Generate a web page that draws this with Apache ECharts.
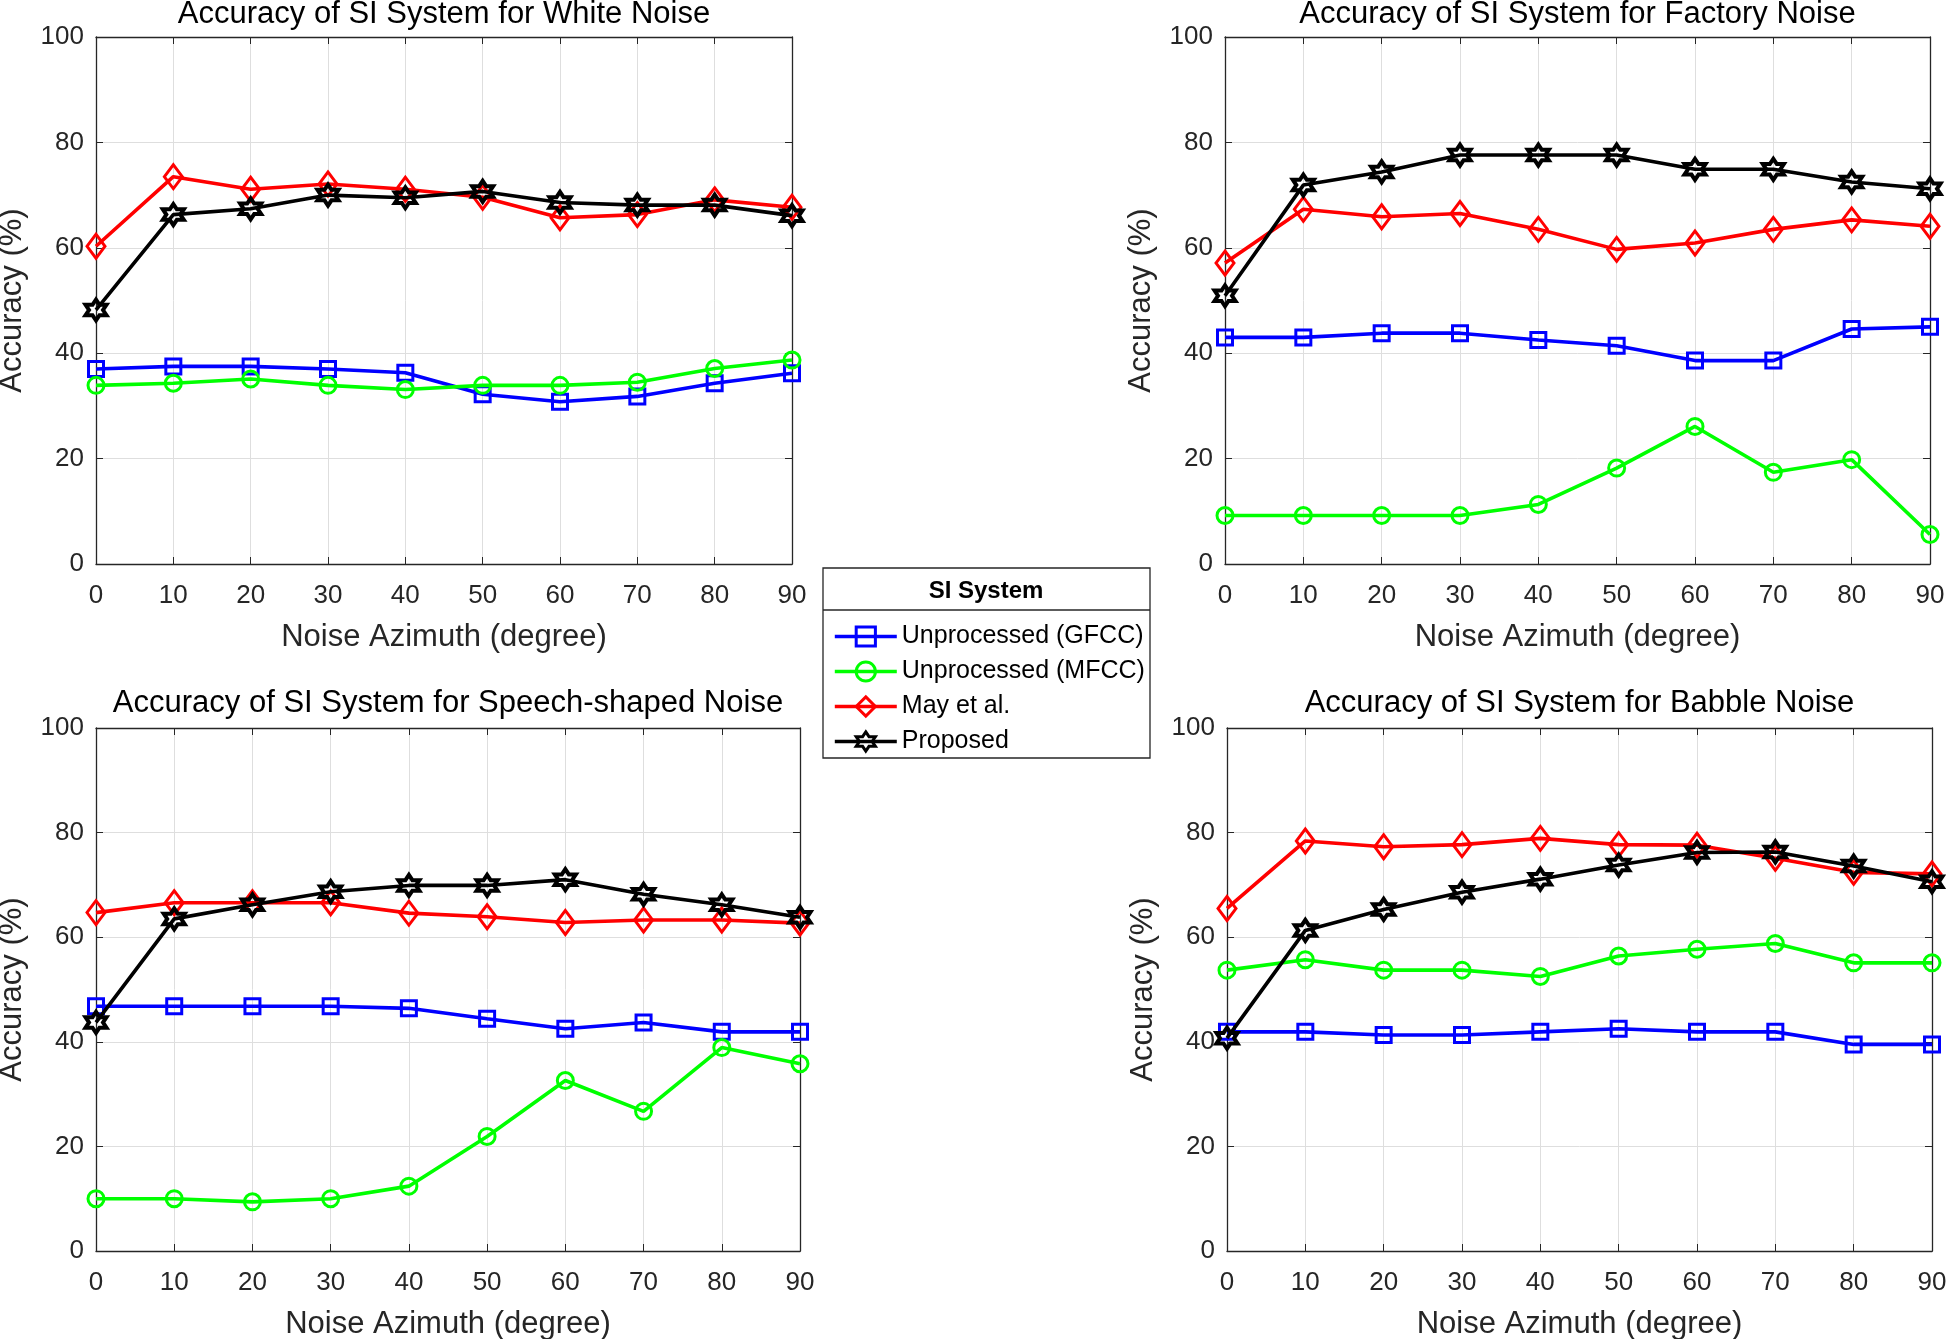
<!DOCTYPE html>
<html>
<head>
<meta charset="utf-8">
<script src="https://cdn.jsdelivr.net/npm/echarts@6/dist/echarts.min.js"></script>
<style>
html,body{margin:0;padding:0;background:#fff;}
#chart{width:1946px;height:1339px;}
</style>
</head>
<body>
<div id="chart"></div>
<script>
// ---------- data ----------
const azimuths = [0, 10, 20, 30, 40, 50, 60, 70, 80, 90];
const xTickValues = [0, 10, 20, 30, 40, 50, 60, 70, 80, 90];
const yTickValues = [0, 20, 40, 60, 80, 100];
const seriesNames = ['Unprocessed (GFCC)', 'Unprocessed (MFCC)', 'May et al.', 'Proposed'];
const panelTitles = [
  'Accuracy of SI System for White Noise',
  'Accuracy of SI System for Factory Noise',
  'Accuracy of SI System for Speech-shaped Noise',
  'Accuracy of SI System for Babble Noise'
];
const legendTitle = 'SI System';
const xAxisName = 'Noise Azimuth (degree)';
const yAxisName = 'Accuracy (%)';

// White noise
const whiteGFCC = [37.0, 37.5, 37.5, 37.0, 36.3, 32.2, 30.8, 31.8, 34.3, 36.2];
const whiteMFCC = [33.9, 34.3, 35.1, 33.9, 33.1, 33.9, 33.9, 34.5, 37.1, 38.7];
const whiteMay = [60.3, 73.5, 71.1, 72.1, 71.1, 69.6, 65.7, 66.3, 69.1, 67.7];
const whiteProposed = [48.2, 66.3, 67.4, 70.0, 69.5, 70.7, 68.6, 68.1, 68.1, 66.1];

// Factory noise
const factoryGFCC = [43.0, 43.0, 43.8, 43.8, 42.5, 41.4, 38.6, 38.6, 44.6, 45.0];
const factoryMFCC = [9.2, 9.2, 9.2, 9.2, 11.3, 18.2, 26.1, 17.4, 19.8, 5.6];
const factoryMay = [57.1, 67.3, 65.9, 66.5, 63.5, 59.7, 60.9, 63.5, 65.3, 64.1];
const factoryProposed = [50.9, 71.9, 74.4, 77.6, 77.6, 77.6, 74.9, 74.9, 72.5, 71.2];

// Speech-shaped noise
const speechGFCC = [46.8, 46.8, 46.8, 46.8, 46.4, 44.4, 42.5, 43.7, 41.9, 41.9];
const speechMFCC = [10.0, 10.0, 9.4, 10.0, 12.4, 21.9, 32.6, 26.7, 38.9, 35.8];
const speechMay = [64.7, 66.6, 66.6, 66.6, 64.6, 63.9, 62.8, 63.3, 63.3, 62.7];
const speechProposed = [43.7, 63.5, 66.2, 68.7, 69.9, 69.9, 71.0, 68.2, 66.2, 63.8];

// Babble noise
const babbleGFCC = [41.9, 41.9, 41.3, 41.3, 41.9, 42.5, 41.9, 41.9, 39.5, 39.5];
const babbleMFCC = [53.7, 55.7, 53.7, 53.7, 52.5, 56.4, 57.7, 58.8, 55.1, 55.1];
const babbleMay = [65.5, 78.4, 77.3, 77.7, 78.9, 77.7, 77.6, 75.1, 72.4, 72.1];
const babbleProposed = [40.7, 61.3, 65.3, 68.6, 71.1, 73.8, 76.2, 76.3, 73.6, 70.6];

const panelData = [
  [whiteGFCC, whiteMFCC, whiteMay, whiteProposed],
  [factoryGFCC, factoryMFCC, factoryMay, factoryProposed],
  [speechGFCC, speechMFCC, speechMay, speechProposed],
  [babbleGFCC, babbleMFCC, babbleMay, babbleProposed]
];

// ---------- styling / layout ----------
const FONT = '"Liberation Sans", Arial, Helvetica, sans-serif';
const AX = '#262626';
const GRIDC = '#dedede';
const colors = ['#0000ff', '#00ff00', '#ff0000', '#000000'];
const hexagram = 'path://M50,0 L64.43,25 L93.3,25 L78.87,50 L93.3,75 L64.43,75 L50,100 L35.57,75 L6.7,75 L21.13,50 L6.7,25 L35.57,25 Z';
const symbols = ['rect', 'circle', 'diamond', hexagram];
const symbolSizes = [15, 16, [18, 24], 21];
const symbolBorders = [3, 3, 3, 4];

const layout = [
  {left: 96, top: 37, width: 696, height: 527, titleY: 14},
  {left: 1225, top: 37, width: 705, height: 527, titleY: 14},
  {left: 96, top: 728, width: 704, height: 523, titleY: 703},
  {left: 1227, top: 728, width: 705, height: 523, titleY: 703}
];

const grids = [], xAxes = [], yAxes = [], series = [], titles = [];
layout.forEach((g, i) => {
  grids.push({left: g.left, top: g.top, width: g.width, height: g.height, show: false,
    containLabel: false, outerBoundsMode: 'none'});
  const tick = {show: true, inside: true, length: 7, lineStyle: {color: AX, width: 1}};
  const line = {show: true, onZero: false, lineStyle: {color: AX, width: 1.3}};
  xAxes.push({
    type: 'value', gridIndex: i, position: 'bottom', min: 0, max: 90, interval: 10,
    axisLine: line, axisTick: tick,
    axisLabel: {show: true, color: AX, fontSize: 26, fontFamily: FONT, margin: 19,
      showMinLabel: true, showMaxLabel: true},
    splitLine: {show: true, lineStyle: {color: GRIDC, width: 1}},
    name: xAxisName, nameLocation: 'middle', nameGap: 58,
    nameTextStyle: {color: AX, fontSize: 31, fontFamily: FONT}
  });
  xAxes.push({
    type: 'value', gridIndex: i, position: 'top', min: 0, max: 90, interval: 10,
    axisLine: line, axisTick: tick, axisLabel: {show: false}, splitLine: {show: false}
  });
  yAxes.push({
    type: 'value', gridIndex: i, position: 'left', min: 0, max: 100, interval: 20,
    axisLine: line, axisTick: tick,
    axisLabel: {show: true, color: AX, fontSize: 26, fontFamily: FONT, margin: 12},
    splitLine: {show: true, lineStyle: {color: GRIDC, width: 1}},
    name: yAxisName, nameLocation: 'middle', nameGap: 68, nameRotate: 90,
    nameTextStyle: {color: AX, fontSize: 31, fontFamily: FONT}
  });
  yAxes.push({
    type: 'value', gridIndex: i, position: 'right', min: 0, max: 100, interval: 20,
    axisLine: line, axisTick: tick, axisLabel: {show: false}, splitLine: {show: false}
  });
  titles.push({
    text: panelTitles[i], left: g.left + g.width / 2, top: g.titleY,
    textAlign: 'center', textVerticalAlign: 'middle', padding: 0,
    textStyle: {color: '#000', fontSize: 31, fontWeight: 'normal', fontFamily: FONT}
  });
  panelData[i].forEach((vals, s) => {
    series.push({
      name: seriesNames[s], type: 'line', xAxisIndex: 2 * i, yAxisIndex: 2 * i,
      data: azimuths.map((a, k) => [a, vals[k]]),
      symbol: symbols[s], symbolSize: symbolSizes[s], showSymbol: true,
      lineStyle: {color: colors[s], width: 3.6},
      itemStyle: {color: 'rgba(255,255,255,0)', borderColor: colors[s], borderWidth: symbolBorders[s]},
      emphasis: {disabled: true},
      clip: false, z: 3 + s
    });
  });
});

const option = {
  animation: false,
  backgroundColor: '#fff',
  title: titles,
  grid: grids,
  xAxis: xAxes,
  yAxis: yAxes,
  series: series,
  legend: {
    orient: 'vertical', left: 828, top: 619,
    itemWidth: 62, itemHeight: 24, itemGap: 10,
    data: seriesNames,
    selectedMode: false,
    lineStyle: {width: 3.6},
    itemStyle: {borderWidth: 3},
    textStyle: {color: '#000', fontSize: 25, fontFamily: FONT, lineHeight: 24, padding: 0}
  },
  graphic: [
    {type: 'rect', silent: true, z: -10, shape: {x: 823, y: 568, width: 327, height: 190},
      style: {fill: '#fff', stroke: AX, lineWidth: 1.3}},
    {type: 'line', silent: true, z: -9, shape: {x1: 823, y1: 610, x2: 1150, y2: 610},
      style: {stroke: AX, lineWidth: 1.3}},
    {type: 'text', silent: true, x: 986, y: 591,
      style: {text: legendTitle, fill: '#000', font: 'bold 24px ' + FONT, textAlign: 'center', textVerticalAlign: 'middle'}}
  ]
};

const chart = echarts.init(document.getElementById('chart'), null, {renderer: 'canvas'});
chart.setOption(option);
</script>
</body>
</html>
